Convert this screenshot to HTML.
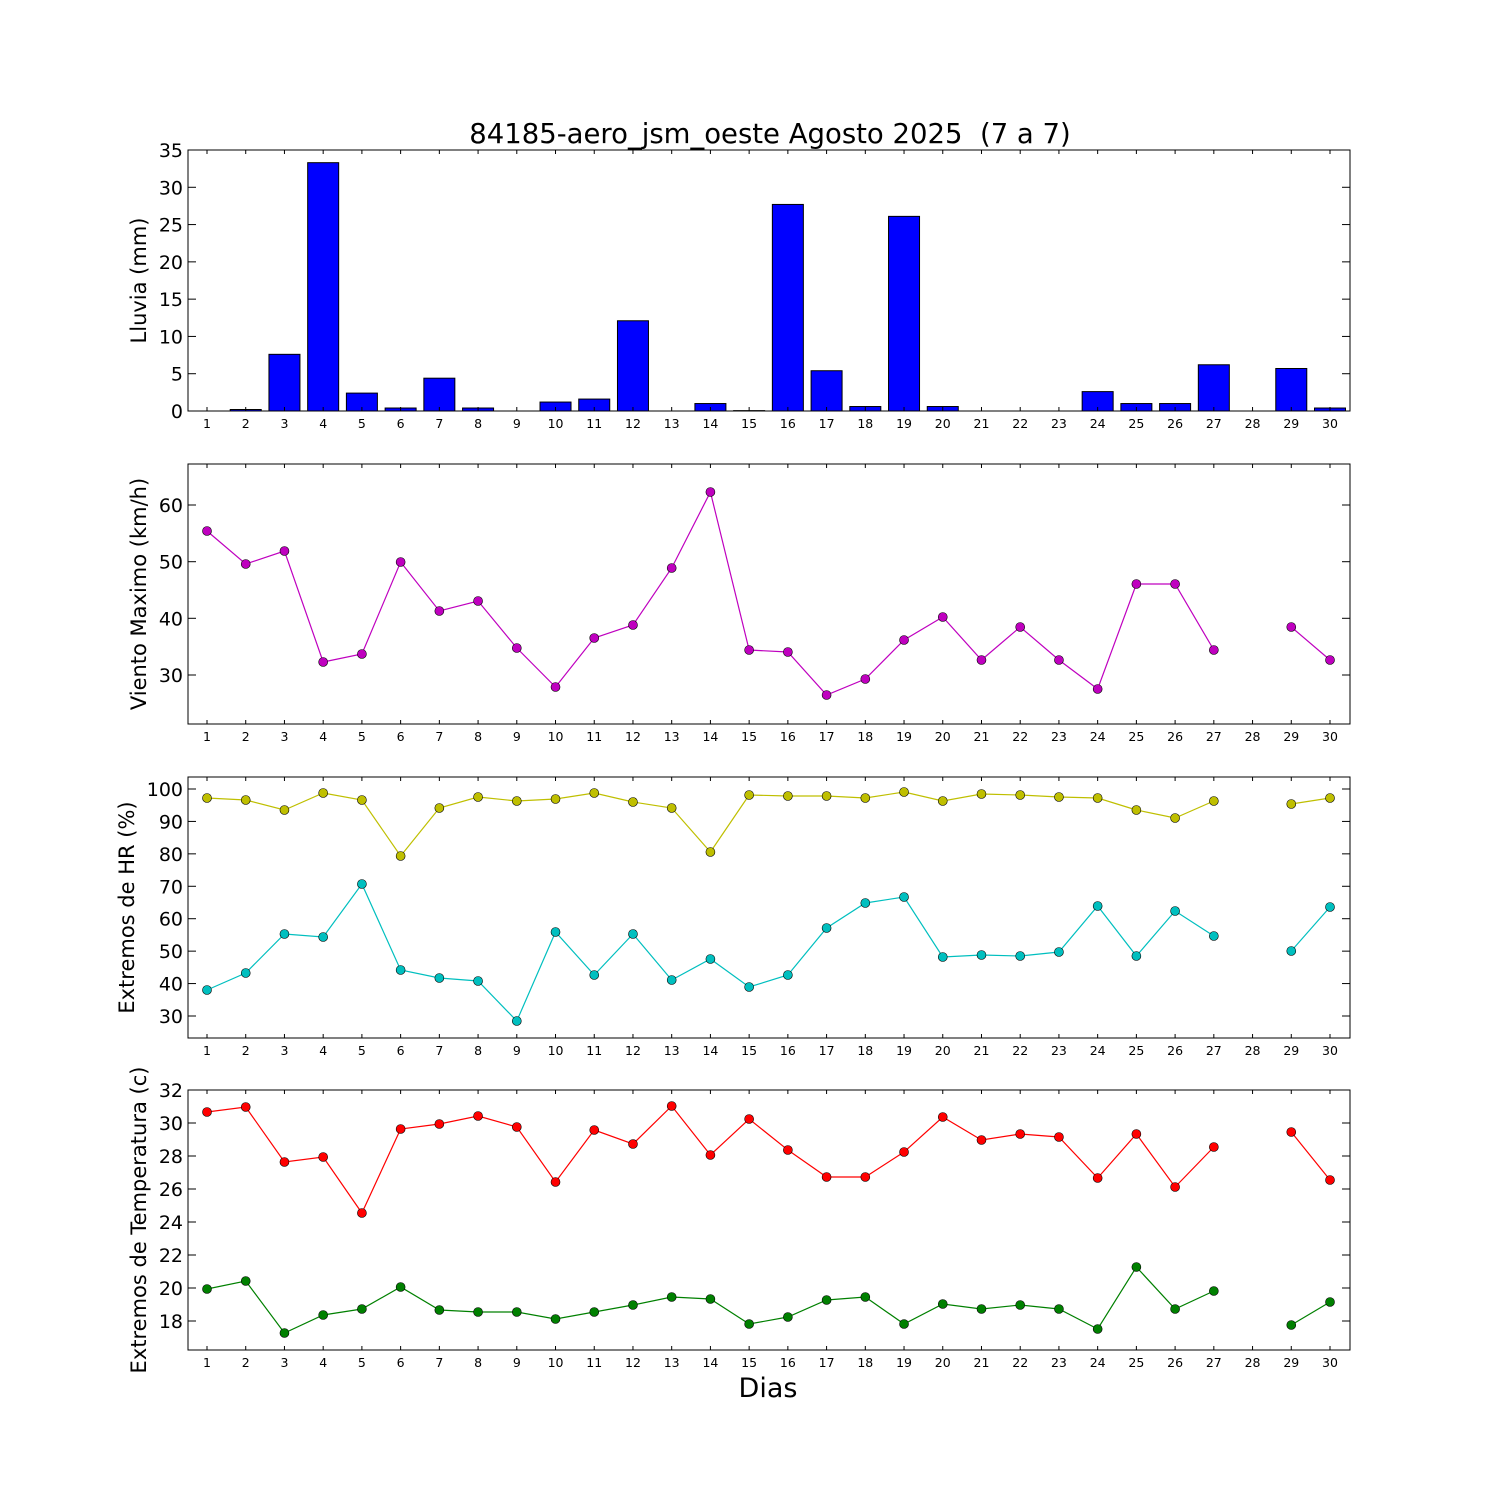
<!DOCTYPE html>
<html><head><meta charset="utf-8"><style>
html,body{margin:0;padding:0;background:#fff}
svg{display:block}
text{font-family:"DejaVu Sans","Liberation Sans",sans-serif}
</style></head><body>
<svg id="s" width="1500" height="1500" xmlns="http://www.w3.org/2000/svg">
<rect width="1500" height="1500" fill="#fff"/>
<text x="770" y="143" font-size="27.5" text-anchor="middle" xml:space="preserve" style="white-space:pre">84185-aero_jsm_oeste Agosto 2025  (7 a 7)</text>
<text x="768" y="1397" font-size="27" text-anchor="middle">Dias</text>
</svg>
<script>
var s=document.getElementById('s'),NS='http://www.w3.org/2000/svg';
function el(t,a,txt){var e=document.createElementNS(NS,t);for(var k in a)e.setAttribute(k,a[k]);if(txt!=null)e.textContent=txt;s.appendChild(e);return e;}
var L=188,R=1350;function X(d){return 207+(d-1)*(1123/29);}
var panels=[[150,411],[464,724],[777,1038],[1090,1350]];
var rain=[0,0.2,7.6,33.3,2.4,0.4,4.4,0.4,0,1.2,1.6,12.1,0,1.0,0.05,27.7,5.4,0.6,26.1,0.6,0,0,0,2.6,1.0,1.0,6.2,null,5.7,0.4];
var sc=261/35;
rain.forEach(function(v,i){if(v==null)return;var h=v*sc,x=X(i+1)-15.5;el('rect',{x:x,y:411-h,width:31,height:h,fill:'#0000ff',stroke:'#000','stroke-width':1});});
function series(ys,col){var d='',pen=false;ys.forEach(function(y,i){if(y==null){pen=false;return;}d+=(pen?'L':'M')+X(i+1)+' '+y+' ';pen=true;});
el('path',{d:d,fill:'none',stroke:col,'stroke-width':1.2});
ys.forEach(function(y,i){if(y!=null)el('circle',{cx:X(i+1),cy:y,r:4.5,fill:col,stroke:'#000','stroke-width':0.6});});}
series([531,564,551,662,654,562,611,601,648,687,638,625,568,492,650,652,695,679,640,617,660,627,660,689,584,584,650,null,627,660],'#bf00bf');
series([798,800,810,793,800,856,808,797,801,799,793,802,808,852,795,796,796,798,792,801,794,795,797,798,810,818,801,null,804,798],'#bfbf00');
series([990,973,934,937,884,970,978,981,1021,932,975,934,980,959,987,975,928,903,897,957,955,956,952,906,956,911,936,null,951,907],'#00bfbf');
series([1112,1107,1162,1157,1213,1129,1124,1116,1127,1182,1130,1144,1106,1155,1119,1150,1177,1177,1152,1117,1140,1134,1137,1178,1134,1187,1147,null,1132,1180],'#ff0000');
series([1289,1281,1333,1315,1309,1287,1310,1312,1312,1319,1312,1305,1297,1299,1324,1317,1300,1297,1324,1304,1309,1305,1309,1329,1267,1309,1291,null,1325,1302],'#008000');
var yt=[
 (function(){var a=[];for(var k=0;k<=7;k++)a.push([411-5*k*sc,5*k]);return a;})(),
 [[675,30],[618.3,40],[561.7,50],[505,60]],
 (function(){var a=[];for(var k=0;k<=7;k++)a.push([1016-32.43*k,30+10*k]);return a;})(),
 (function(){var a=[];for(var k=0;k<=7;k++)a.push([1321-33*k,18+2*k]);return a;})()
];
var labels=['Lluvia (mm)','Viento Maximo (km/h)','Extremos de HR (%)','Extremos de Temperatura (c)'];
panels.forEach(function(p,i){var t=p[0],b=p[1];
 el('rect',{x:L,y:t,width:R-L,height:b-t,fill:'none',stroke:'#000','stroke-width':1});
 for(var d=1;d<=30;d++){var x=X(d);el('line',{x1:x,x2:x,y1:b,y2:b-4,stroke:'#000'});el('line',{x1:x,x2:x,y1:t,y2:t+4,stroke:'#000'});
  el('text',{x:x,y:b+17,'font-size':12.5,'text-anchor':'middle'},d);}
 yt[i].forEach(function(q){el('line',{x1:L,x2:L+8,y1:q[0],y2:q[0],stroke:'#000'});el('line',{x1:R,x2:R-8,y1:q[0],y2:q[0],stroke:'#000'});
  el('text',{x:L-5,y:q[0]+7,'font-size':19,'text-anchor':'end'},q[1]);});
 var cy=(t+b)/2;el('text',{x:0,y:0,'font-size':21,'text-anchor':'middle',transform:'translate('+(i==2?134:146)+','+cy+') rotate(-90)'},labels[i]);
});
</script>
</body></html>
